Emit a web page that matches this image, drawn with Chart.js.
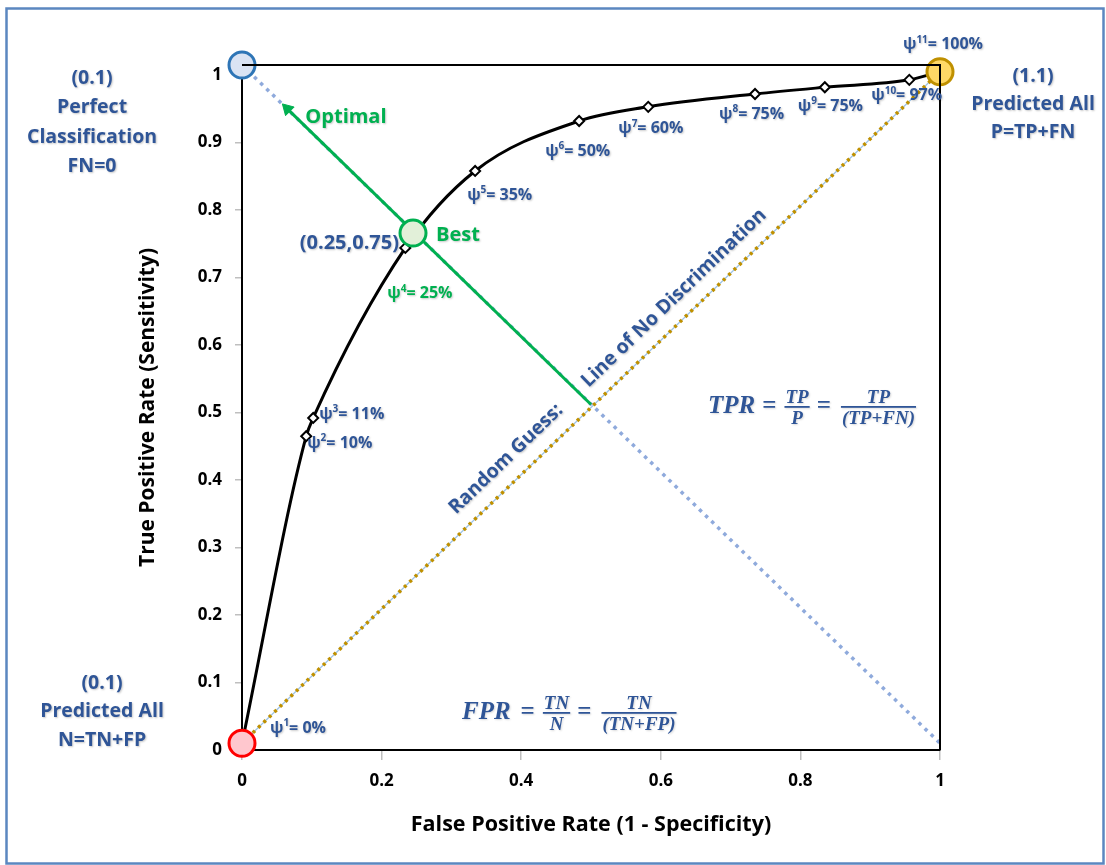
<!DOCTYPE html>
<html>
<head>
<meta charset="utf-8">
<script src="https://cdn.jsdelivr.net/npm/chart.js@4.4.1/dist/chart.umd.min.js"></script>
<style>
  html,body{margin:0;padding:0;background:#fff;}
  #wrap{position:relative;width:1106px;height:865px;}
  canvas{display:block;}
</style>
</head>
<body>
<div id="wrap"><canvas id="c" width="1106" height="865"></canvas></div>
<script>
// ---- data ----
const rocFPR = [0, 0.092, 0.102, 0.234, 0.334, 0.483, 0.582, 0.735, 0.835, 0.956, 1.0];
const rocTPR = [0.01, 0.465, 0.492, 0.744, 0.858, 0.932, 0.953, 0.972, 0.982, 0.993, 1.005];
const thresholdLabels = ['0%', '10%', '11%', '25%', '35%', '50%', '60%', '75%', '75%', '97%', '100%'];
const thresholdIndex = ['1', '2', '3', '4', '5', '6', '7', '8', '9', '10', '11'];
const randomGuessX = [0, 1];
const randomGuessY = [0.01, 1.005];
const antiDiagX = [0, 1];
const antiDiagY = [1.015, 0.01];
const optimalX = [0.5, 0.065];
const optimalY = [0.512, 0.95];
const bestPoint = [0.245, 0.766];
const perfectPoint = [0, 1.015];
const allPosPoint = [1, 1.005];
const allNegPoint = [0, 0.01];
const xTicks = [0, 0.2, 0.4, 0.6, 0.8, 1];
const yTicks = [0, 0.1, 0.2, 0.3, 0.4, 0.5, 0.6, 0.7, 0.8, 0.9, 1];

// ---- styles ----
const BLUE = '#2F5597';
const GREEN = '#00B050';
const FONT = "'Open Sans', Lato, 'DejaVu Sans', sans-serif";
const SERIF = "'Liberation Serif', 'DejaVu Serif', serif";

const pts = (xs, ys) => xs.map((x, i) => ({x: x, y: ys[i]}));

// label offsets (pixels) from each ROC point
const labelOffsets = [[28,-15],[1,7],[6,-4],[-18,46],[-8,24],[-34,30],[-30,22],[-36,20],[-27,19],[-38,16],[-37,-27]];

function psiLabel(ctx, x, y, idx, rest, color, size) {
  ctx.fillStyle = color;
  ctx.textAlign = 'left';
  ctx.textBaseline = 'middle';
  ctx.font = 'bold ' + size + 'px ' + FONT;
  ctx.fillText('ψ', x, y);
  let w = ctx.measureText('ψ').width;
  const s2 = Math.round(size * 0.62);
  ctx.font = 'bold ' + s2 + 'px ' + FONT;
  ctx.fillText(idx, x + w, y - size * 0.3);
  w += ctx.measureText(idx).width;
  ctx.font = 'bold ' + size + 'px ' + FONT;
  ctx.fillText('= ' + rest, x + w, y);
}

function centered(ctx, lines, cx, ys, size, color) {
  ctx.fillStyle = color;
  ctx.textAlign = 'center';
  ctx.textBaseline = 'middle';
  ctx.font = 'bold ' + size + 'px ' + FONT;
  lines.forEach((t, i) => ctx.fillText(t, cx, ys[i]));
}

function fraction(ctx, x, barY, num, den, size, color) {
  ctx.font = 'italic bold ' + size + 'px ' + SERIF;
  const w = Math.max(ctx.measureText(num).width, ctx.measureText(den).width) + 2;
  ctx.fillStyle = color;
  ctx.textAlign = 'center';
  ctx.textBaseline = 'alphabetic';
  ctx.fillText(num, x + w / 2, barY - 4);
  ctx.textBaseline = 'top';
  ctx.fillText(den, x + w / 2, barY + 3);
  ctx.fillRect(x, barY - 1, w, 1.8);
  return w;
}

function formula(ctx, x, y, lhs, gap, f1n, f1d, f2n, f2d, color) {
  ctx.save();
  ctx.fillStyle = color;
  ctx.textAlign = 'left';
  ctx.textBaseline = 'middle';
  ctx.font = 'italic bold 25px ' + SERIF;
  ctx.fillText(lhs, x, y);
  let cx = x + ctx.measureText(lhs).width + gap;
  ctx.font = 'bold 25px ' + SERIF;
  ctx.fillText('=', cx, y);
  cx += ctx.measureText('=').width + 8;
  cx += fraction(ctx, cx, y, f1n, f1d, 19, color) + 7;
  ctx.font = 'bold 25px ' + SERIF;
  ctx.textAlign = 'left';
  ctx.textBaseline = 'middle';
  ctx.fillText('=', cx, y);
  cx += ctx.measureText('=').width + 10;
  fraction(ctx, cx, y, f2n, f2d, 19, color);
  ctx.restore();
}

const annotations = {
  id: 'annotations',
  beforeDraw(chart) {
    const ctx = chart.ctx;
    ctx.save();
    ctx.fillStyle = '#fff';
    ctx.fillRect(0, 0, chart.width, chart.height);
    ctx.restore();
  },
  afterDatasetsDraw(chart) {
    const ctx = chart.ctx;
    const xs = chart.scales.x, ys = chart.scales.y;
    const a = chart.chartArea;
    ctx.save();
    // plot frame (top and right)
    ctx.strokeStyle = '#000';
    ctx.lineWidth = 2;
    ctx.beginPath();
    ctx.moveTo(a.left, a.top); ctx.lineTo(a.right, a.top); ctx.lineTo(a.right, a.bottom);
    ctx.stroke();
    // outer figure frame
    ctx.strokeStyle = '#5B87C0';
    ctx.lineWidth = 2.5;
    ctx.strokeRect(6.5, 8.5, 1097, 855);

    ctx.shadowColor = 'rgba(0,0,0,0.22)';
    ctx.shadowOffsetX = 1;
    ctx.shadowOffsetY = 1;
    ctx.shadowBlur = 2;

    // threshold labels
    rocFPR.forEach((v, i) => {
      const px = xs.getPixelForValue(v) + labelOffsets[i][0];
      const py = ys.getPixelForValue(rocTPR[i]) + labelOffsets[i][1];
      psiLabel(ctx, px, py, thresholdIndex[i], thresholdLabels[i], i === 3 ? GREEN : BLUE, 16);
    });

    // Best / Optimal / coordinates
    const bx = xs.getPixelForValue(bestPoint[0]), by = ys.getPixelForValue(bestPoint[1]);
    ctx.font = 'bold 20px ' + FONT;
    ctx.textBaseline = 'middle';
    ctx.textAlign = 'left';
    ctx.fillStyle = GREEN;
    ctx.fillText('Best', bx + 23, by + 2);
    const ox = xs.getPixelForValue(optimalX[1]), oy = ys.getPixelForValue(optimalY[1]);
    ctx.fillText('Optimal', ox + 18, oy + 8);
    ctx.fillStyle = BLUE;
    ctx.textAlign = 'right';
    ctx.fillText('(0.25,0.75)', bx - 14, by + 10);

    // corner labels
    centered(ctx, ['(0.1)', 'Perfect', 'Classification', 'FN=0'], 92, [78, 107, 137, 166], 19.5, BLUE);
    centered(ctx, ['(1.1)', 'Predicted All', 'P=TP+FN'], 1033, [76, 104, 132], 19.5, BLUE);
    centered(ctx, ['(0.1)', 'Predicted All', 'N=TN+FP'], 102, [683, 711, 740], 19.5, BLUE);

    // diagonal text
    const x0 = xs.getPixelForValue(randomGuessX[0]), y0 = ys.getPixelForValue(randomGuessY[0]);
    const x1 = xs.getPixelForValue(randomGuessX[1]), y1 = ys.getPixelForValue(randomGuessY[1]);
    const ang = Math.atan2(y1 - y0, x1 - x0);
    ctx.fillStyle = BLUE;
    ctx.font = 'bold 19.5px ' + FONT;
    ctx.textAlign = 'center';
    ctx.textBaseline = 'middle';
    [['Random Guess:', 506, 459], ['Line of No Discrimination', 674, 298]].forEach(t => {
      ctx.save();
      ctx.translate(t[1], t[2]);
      ctx.rotate(ang);
      ctx.fillText(t[0], 0, 0);
      ctx.restore();
    });

    ctx.shadowColor = 'rgba(0,0,0,0.15)';
    formula(ctx, 708, 407, 'TPR', 7, 'TP', 'P', 'TP', '(TP+FN)', BLUE);
    formula(ctx, 462, 713, 'FPR', 10, 'TN', 'N', 'TN', '(TN+FP)', BLUE);
    ctx.restore();
  }
};

const chart = new Chart(document.getElementById('c'), {
  type: 'scatter',
  data: {
    datasets: [
      { // corner circles
        data: [perfectPoint, allPosPoint, allNegPoint, bestPoint].map(p => ({x: p[0], y: p[1]})),
        pointRadius: 13,
        pointBorderWidth: 3,
        pointBackgroundColor: ['#DAE3F3', '#FFD966', '#FFC7CE', '#E2F0D9'],
        pointBorderColor: ['#2E75B6', '#BF9000', '#FF0000', GREEN],
        showLine: false,
        order: 0
      },
      { // ROC curve
        data: pts(rocFPR, rocTPR),
        showLine: true,
        borderColor: '#000',
        borderWidth: 3,
        cubicInterpolationMode: 'monotone',
        pointStyle: 'rectRot',
        pointRadius: 5,
        pointBorderWidth: 2,
        pointBackgroundColor: '#fff',
        pointBorderColor: '#000',
        order: 1
      },
      { // optimal arrow
        data: pts(optimalX, optimalY),
        showLine: true,
        borderColor: GREEN,
        borderWidth: 3,
        pointStyle: 'triangle',
        pointRadius: [0, 7],
        pointRotation: [0, -45],
        pointBackgroundColor: GREEN,
        pointBorderColor: GREEN,
        pointBorderWidth: 1,
        order: 2
      },
      { // random guess dotted
        data: pts(randomGuessX, randomGuessY),
        showLine: true,
        borderColor: '#BF9000',
        borderWidth: 3.5,
        borderDash: [3, 4.5],
        borderCapStyle: 'butt',
        pointRadius: 0,
        order: 3
      },
      { // thin blue under random guess
        data: pts(randomGuessX, randomGuessY),
        showLine: true,
        borderColor: '#9DC3E6',
        borderWidth: 1.2,
        pointRadius: 0,
        order: 4
      },
      { // anti-diagonal blue dotted
        data: pts(antiDiagX, antiDiagY),
        showLine: true,
        borderColor: '#8FAADC',
        borderWidth: 3.5,
        borderDash: [3.5, 5],
        pointRadius: 0,
        order: 5
      }
    ]
  },
  options: {
    responsive: false,
    animation: false,
    clip: false,
    layout: { padding: { left: 135, top: 65, right: 166, bottom: 27 } },
    plugins: { legend: { display: false }, tooltip: { enabled: false } },
    scales: {
      x: {
        type: 'linear', min: 0, max: 1,
        afterBuildTicks: s => { s.ticks = xTicks.map(v => ({value: v})); },
        afterFit: s => { s.height = 88; },
        grid: { drawOnChartArea: false, drawTicks: true, tickLength: 10, color: '#BFBFBF', lineWidth: 1.5 },
        border: { display: true, color: '#000', width: 2 },
        ticks: { color: '#000', padding: 11, font: { family: FONT, size: 17, weight: 'bold' }, callback: v => String(v) },
        title: { display: true, text: 'False Positive Rate (1 - Specificity)', color: '#000', padding: 0, font: { family: FONT, size: 21.5, weight: 'bold' } }
      },
      y: {
        type: 'linear', min: 0, max: 1.015,
        afterBuildTicks: s => { s.ticks = yTicks.map(v => ({value: v})); },
        afterFit: s => { s.width = 107; },
        grid: { drawOnChartArea: false, drawTicks: true, tickLength: 7, color: '#BFBFBF', lineWidth: 1.5 },
        border: { display: true, color: '#000', width: 2 },
        ticks: { color: '#000', padding: 13, font: { family: FONT, size: 17, weight: 'bold' }, callback: v => String(v) },
        title: { display: true, text: 'True Positive Rate (Sensitivity)', color: '#000', padding: 0, font: { family: FONT, size: 21, weight: 'bold' } }
      }
    }
  },
  plugins: [annotations]
});
</script>
</body>
</html>
